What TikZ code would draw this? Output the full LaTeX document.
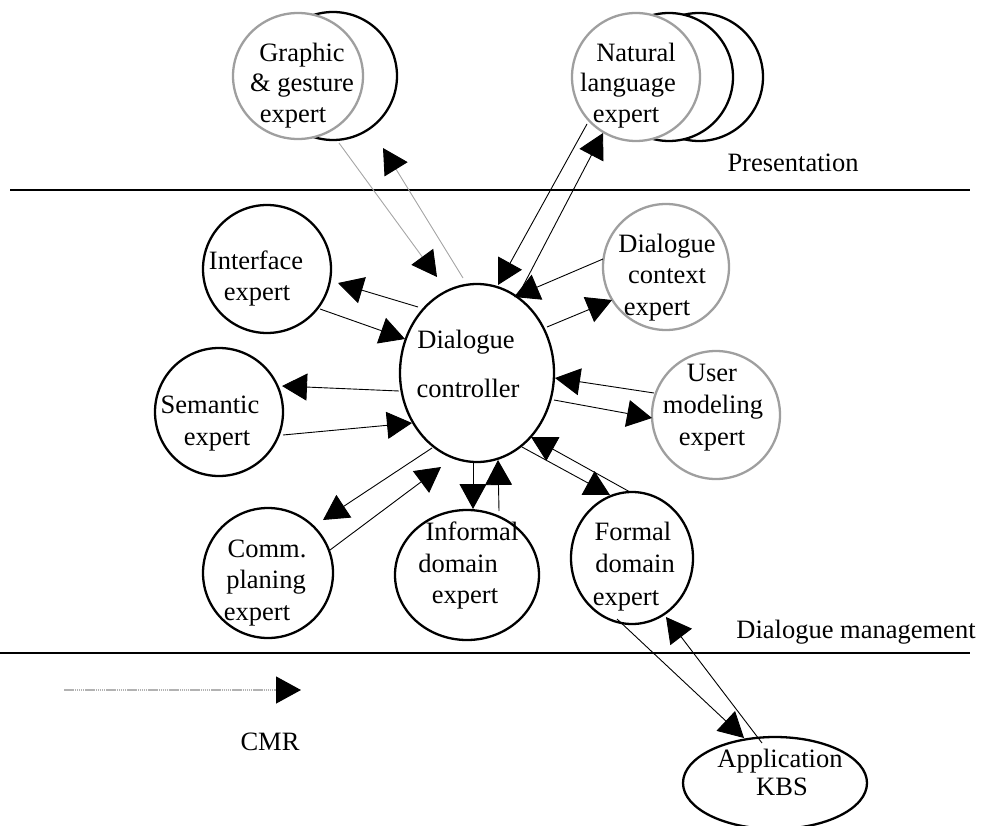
\documentclass[tikz,border=0pt]{standalone}
\usepackage{fontspec}
\setmainfont{Liberation Serif}
\usetikzlibrary{arrows.meta,shapes.geometric}
\begin{document}
\begin{tikzpicture}[x=1pt,y=-1pt,
  bubble/.style={ellipse, draw, line width=2.3pt, fill=white, inner sep=0pt},
  softbubble/.style={bubble, draw=gray!75},
  txt/.style={anchor=base, inner sep=0pt, font=\fontsize{26.5}{30}\selectfont},
  tip/.tip={Triangle[length=25pt,width=27pt,color=black]},
  link/.style={line width=0.9pt, -tip},
  softlink/.style={link, draw=gray!70},
  divider/.style={line width=1.2pt}]
\useasboundingbox (0,0) rectangle (984,826);

% layer dividers
\coordinate (topL) at (10,190);  \coordinate (topR) at (970,190);
\coordinate (botL) at (0,653);   \coordinate (botR) at (970,653);
\draw[divider] (topL) -- (topR);
\draw[divider] (botL) -- (botR);
\node[txt] (presentation) at (793,172) {Presentation};
\node[txt] (management) at (856,638) {Dialogue management};

% presentation experts (stacked instances)
\node[bubble, minimum width=128pt, minimum height=128pt] (graphicB) at (333,76) {};
\node[softbubble, minimum width=130pt, minimum height=126pt] (graphic) at (298,76) {};
\node[txt] (graphicT1) at (302,62) {Graphic};
\node[txt] (graphicT2) at (302,92) {\& gesture};
\node[txt] (graphicT3) at (293,123) {expert};

\node[bubble, minimum width=128pt, minimum height=128pt] (natlangC) at (699,77) {};
\node[bubble, minimum width=128pt, minimum height=128pt] (natlangB) at (669,77) {};
\node[softbubble, minimum width=128pt, minimum height=128pt] (natlang) at (636,77) {};
\node[txt] (natlangT1) at (636,62) {Natural};
\node[txt] (natlangT2) at (628,92) {language};
\node[txt] (natlangT3) at (626,123) {expert};

% dialogue management experts
\node[bubble, minimum width=154pt, minimum height=178pt] (ctrl) at (477,373) {};
\node[txt] (ctrlT1) at (466,348) {Dialogue};
\node[txt] (ctrlT2) at (468,397) {controller};

\node[bubble, minimum width=128pt, minimum height=128pt] (iface) at (267,269) {};
\node[txt] (ifaceT1) at (256,269) {Interface};
\node[txt] (ifaceT2) at (257,300) {expert};

\node[bubble, minimum width=128pt, minimum height=128pt] (sem) at (219,412) {};
\node[txt] (semT1) at (210,413) {Semantic};
\node[txt] (semT2) at (217,445) {expert};

\node[bubble, minimum width=130pt, minimum height=130pt] (comm) at (268,573) {};
\node[txt] (commT1) at (267,557) {Comm.};
\node[txt] (commT2) at (266,588) {planing};
\node[txt] (commT3) at (257,620) {expert};

\node[bubble, minimum width=144pt, minimum height=130pt] (informal) at (467,575) {};
\node[txt] (informalT1) at (472,540) {Informal};
\node[txt] (informalT2) at (458,572) {domain};
\node[txt] (informalT3) at (465,603) {expert};

\node[bubble, minimum width=122pt, minimum height=132pt] (formal) at (632,558) {};
\node[txt] (formalT1) at (633,540) {Formal};
\node[txt] (formalT2) at (635,572) {domain};
\node[txt] (formalT3) at (626,605) {expert};

\node[softbubble, minimum width=126pt, minimum height=126pt] (context) at (666,267) {};
\node[txt] (contextT1) at (667,252) {Dialogue};
\node[txt] (contextT2) at (667,283) {context};
\node[txt] (contextT3) at (657,315) {expert};

\node[softbubble, minimum width=128pt, minimum height=128pt] (user) at (716,415) {};
\node[txt] (userT1) at (712,381) {User};
\node[txt] (userT2) at (713,413) {modeling};
\node[txt] (userT3) at (712,445) {expert};

\node[bubble, minimum width=184pt, minimum height=92pt] (app) at (775,783) {};
\node[txt] (appT1) at (780,767) {Application};
\node[txt] (appT2) at (782,795) {KBS};

% connector end points
\coordinate (g1s) at (339,143); \coordinate (g1e) at (437,277);
\coordinate (g2s) at (463,278); \coordinate (g2e) at (383,148);
\coordinate (n1s) at (587,124); \coordinate (n1e) at (498,285);
\coordinate (n2s) at (522,288); \coordinate (n2e) at (603,133);
\coordinate (c1s) at (603,259); \coordinate (c1e) at (514,297);
\coordinate (c2s) at (547,327); \coordinate (c2e) at (612,300);
\coordinate (u1s) at (654,393); \coordinate (u1e) at (555,378);
\coordinate (u2s) at (554,400); \coordinate (u2e) at (652,418);
\coordinate (i1s) at (418,307); \coordinate (i1e) at (338,283);
\coordinate (i2s) at (320,309); \coordinate (i2e) at (405,339);
\coordinate (s1s) at (399,391); \coordinate (s1e) at (282,386);
\coordinate (s2s) at (283,435); \coordinate (s2e) at (412,423);
\coordinate (m1s) at (432,448); \coordinate (m1e) at (323,520);
\coordinate (m2s) at (330,550); \coordinate (m2e) at (441,467);
\coordinate (f1s) at (473,461); \coordinate (f1e) at (473,509);
\coordinate (f2s) at (499,511); \coordinate (f2e) at (498,460);
\coordinate (d1s) at (630,492); \coordinate (d1e) at (531,437);
\coordinate (d2s) at (522,447); \coordinate (d2e) at (610,495);
\coordinate (a1s) at (617,619); \coordinate (a1e) at (744,738);
\coordinate (a2s) at (762,743); \coordinate (a2e) at (666,617);

% message flows
\draw[softlink] (g1s) -- (g1e);
\draw[softlink] (g2s) -- (g2e);
\draw[link] (n1s) -- (n1e);
\draw[link] (n2s) -- (n2e);
\draw[link] (c1s) -- (c1e);
\draw[link] (c2s) -- (c2e);
\draw[link] (u1s) -- (u1e);
\draw[link] (u2s) -- (u2e);
\draw[link] (i1s) -- (i1e);
\draw[link] (i2s) -- (i2e);
\draw[link] (s1s) -- (s1e);
\draw[link] (s2s) -- (s2e);
\draw[link] (m1s) -- (m1e);
\draw[link] (m2s) -- (m2e);
\draw[link] (f1s) -- (f1e);
\draw[link] (f2s) -- (f2e);
\draw[link] (d1s) -- (d1e);
\draw[link] (d2s) -- (d2e);
\draw[link] (a1s) -- (a1e);
\draw[link] (a2s) -- (a2e);

% legend
\coordinate (cmrS) at (64,690); \coordinate (cmrE) at (301,690);
\draw[link, line width=1.3pt, draw=gray!60, dash pattern=on 1.5pt off 0.6pt] (cmrS) -- (cmrE);
\node[txt] (cmr) at (270,750) {CMR};
\end{tikzpicture}
\end{document}
